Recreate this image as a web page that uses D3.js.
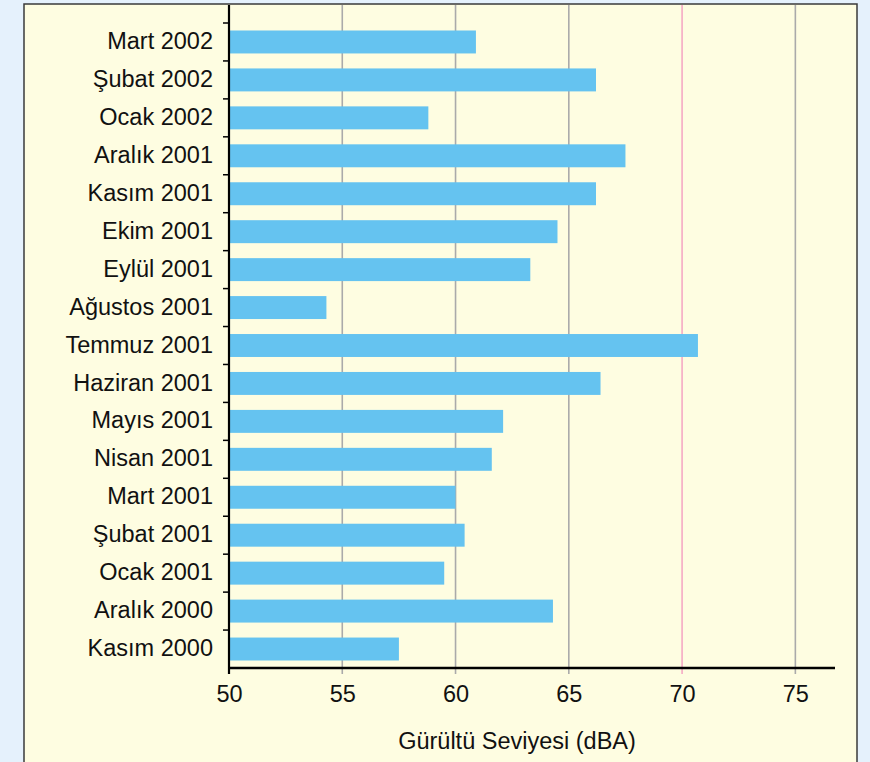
<!DOCTYPE html>
<meta charset="utf-8">
<style>
    html, body {
        margin: 0;
        padding: 0;
        background: #e5f1fc;
    }

    svg {
        display: block;
        font-family: "Liberation Sans", Arial, Helvetica, sans-serif;
    }

    .axis text {
        font-size: 23.5px;
        fill: #111;
    }
</style>
<body>
<script src="https://d3js.org/d3.v7.min.js"></script>
<script>
    // months, top to bottom as in the chart
    const months = ['Mart 2002', 'Şubat 2002', 'Ocak 2002', 'Aralık 2001', 'Kasım 2001', 'Ekim 2001',
        'Eylül 2001', 'Ağustos 2001', 'Temmuz 2001', 'Haziran 2001', 'Mayıs 2001', 'Nisan 2001',
        'Mart 2001', 'Şubat 2001', 'Ocak 2001', 'Aralık 2000', 'Kasım 2000'];
    const noise = [60.9, 66.2, 58.8, 67.5, 66.2, 64.5, 63.3, 54.3, 70.7, 66.4, 62.1, 61.6,
        60.0, 60.4, 59.5, 64.3, 57.5];
    const xTicks = [50, 55, 60, 65, 70, 75];
    const limit = 70;
    const xTitle = 'Gürültü Seviyesi (dBA)';

    const width = 870;
    const height = 762;
    const panel = {left: 24, top: 4, right: 857};
    const plot = {left: 229, right: 835, top: 23, bottom: 668};

    const svg = d3.select('body')
        .append('svg')
        .attr('width', width)
        .attr('height', height);

    // yellow panel
    svg.append('rect')
        .attr('x', panel.left)
        .attr('y', panel.top)
        .attr('width', panel.right - panel.left)
        .attr('height', height + 10)
        .style('fill', '#fefde1')
        .style('stroke', '#3a3a3a')
        .style('stroke-width', 1.5);

    const x = d3.scaleLinear()
        .domain([50, 76.75])
        .range([plot.left, plot.right]);

    const y = d3.scaleBand()
        .domain(months)
        .range([plot.top, plot.bottom])
        .paddingInner(0.395)
        .paddingOuter(0.1975);

    const data = months.map((m, i) => ({month: m, value: noise[i]}));

    // vertical grid lines
    svg.append('g')
        .attr('class', 'grid')
        .selectAll('line')
        .data(xTicks.filter(d => d > 50))
        .enter().append('line')
        .attr('x1', d => x(d))
        .attr('x2', d => x(d))
        .attr('y1', panel.top + 1)
        .attr('y2', plot.bottom + 6)
        .style('stroke', d => d === limit ? '#f5a9c4' : '#aaaaaa')
        .style('stroke-width', 1.6);

    // bars
    svg.append('g')
        .selectAll('rect')
        .data(data)
        .enter().append('rect')
        .attr('x', x(50))
        .attr('y', d => y(d.month))
        .attr('width', d => x(d.value) - x(50))
        .attr('height', y.bandwidth())
        .style('fill', '#65c3f0');

    // x axis, labels only
    const xAxis = svg.append('g')
        .attr('class', 'x axis')
        .attr('transform', 'translate(0,' + plot.bottom + ')')
        .call(d3.axisBottom(x).tickValues(xTicks).tickSize(0).tickPadding(17));
    xAxis.select('.domain').remove();

    svg.append('line')
        .attr('x1', plot.left)
        .attr('x2', plot.right)
        .attr('y1', plot.bottom)
        .attr('y2', plot.bottom)
        .style('stroke', '#000')
        .style('stroke-width', 2.5);

    // y axis, labels centred on bars
    const yAxis = svg.append('g')
        .attr('class', 'y axis')
        .attr('transform', 'translate(' + plot.left + ',0)')
        .call(d3.axisLeft(y).tickSize(0).tickPadding(16));
    yAxis.select('.domain').remove();
    yAxis.selectAll('text').attr('dy', '0.3em');

    // ticks between bands
    const gap = (y.step() - y.bandwidth()) / 2;
    svg.append('g')
        .selectAll('line')
        .data(months)
        .enter().append('line')
        .attr('x1', plot.left - 6)
        .attr('x2', plot.left)
        .attr('y1', d => y(d) - gap)
        .attr('y2', d => y(d) - gap)
        .style('stroke', '#000')
        .style('stroke-width', 1.5);

    svg.append('line')
        .attr('x1', plot.left)
        .attr('x2', plot.left)
        .attr('y1', panel.top + 1)
        .attr('y2', plot.bottom + 6)
        .style('stroke', '#000')
        .style('stroke-width', 2.2);

    // axis title
    svg.append('text')
        .attr('x', (x(50) + x(76.75)) / 2 - 15)
        .attr('y', 749)
        .style('text-anchor', 'middle')
        .style('font-size', '23.5px')
        .style('fill', '#111')
        .text(xTitle);
</script>
</body>
</html>
